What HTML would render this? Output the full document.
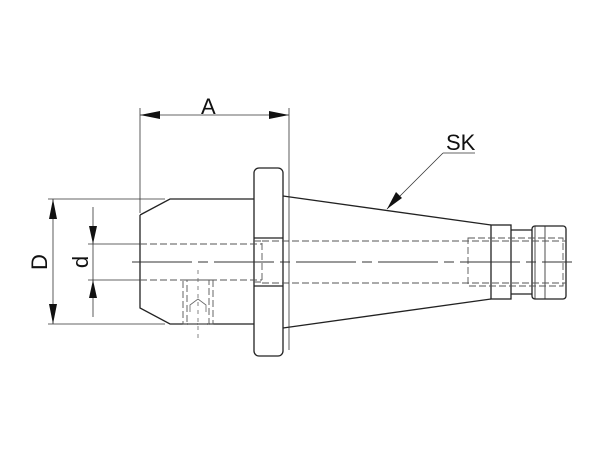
<!DOCTYPE html>
<html><head><style>html,body{margin:0;padding:0;background:#fff}svg{display:block}</style></head>
<body>
<svg width="600" height="450" viewBox="0 0 600 450" xmlns="http://www.w3.org/2000/svg">
<g fill="none" stroke="#222" stroke-width="1.3">
<path d="M140,215 L170,199 L254,199 M140,215 L140,308 L170,324 L254,324"/>
<rect x="254" y="168" width="29" height="188" rx="5"/>
<line x1="254" y1="238" x2="283" y2="238"/>
<line x1="254" y1="286" x2="283" y2="286"/>
<line x1="283" y1="196" x2="491" y2="225"/>
<line x1="283" y1="328" x2="491" y2="299"/>
<rect x="491" y="225" width="20" height="74"/>
<line x1="511" y1="230" x2="532" y2="230"/>
<line x1="511" y1="294" x2="532" y2="294"/>
<rect x="532" y="226" width="34" height="73" rx="3"/>
<line x1="535" y1="226" x2="535" y2="299" stroke-width="0.8"/>
<line x1="545" y1="226" x2="545" y2="299" stroke-width="0.8"/>
</g>
<g fill="none" stroke="#555" stroke-width="0.9" stroke-dasharray="7,3">
<line x1="140" y1="244" x2="262" y2="244"/>
<line x1="140" y1="280" x2="262" y2="280"/>
<path d="M254,241 L262,241 L262,282 L254,282"/>
<line x1="262" y1="241" x2="566" y2="241"/>
<line x1="262" y1="283" x2="566" y2="283"/>
<rect x="468" y="238" width="95" height="48"/>
<rect x="183" y="280" width="30" height="44"/>
<rect x="187" y="280" width="22" height="44"/>
</g>
<g fill="none" stroke="#666" stroke-width="0.8">
<path d="M190,312 L190,305 L198,299 L206,305 L206,312"/>
<line x1="198" y1="270" x2="198" y2="338" stroke-dasharray="4,4"/>
</g>
<line x1="132" y1="262" x2="572" y2="262" stroke="#333" stroke-width="0.9" stroke-dasharray="60,6,10,6"/>
<g stroke="#333" stroke-width="0.8" fill="none">
<line x1="140" y1="108" x2="140" y2="213"/>
<line x1="289" y1="108" x2="289" y2="350"/>
<line x1="140" y1="115" x2="289" y2="115"/>
<line x1="48" y1="199" x2="165" y2="199"/>
<line x1="48" y1="324" x2="165" y2="324"/>
<line x1="53" y1="199" x2="53" y2="324"/>
<line x1="88" y1="244" x2="140" y2="244"/>
<line x1="88" y1="280" x2="140" y2="280"/>
<line x1="93" y1="207" x2="93" y2="317"/>
<line x1="443" y1="153" x2="387" y2="209"/>
<line x1="443" y1="153" x2="475" y2="153"/>
</g>
<g fill="#111">
<polygon points="140,115 160,111 160,119"/>
<polygon points="289,115 269,111 269,119"/>
<polygon points="53,199 49,219 57,219"/>
<polygon points="53,324 49,304 57,304"/>
<polygon points="93,244 89,226 97,226"/>
<polygon points="93,280 89,298 97,298"/>
<polygon points="387,209 396,192 402,198"/>
</g>
<g font-family="Liberation Sans, sans-serif" font-size="22" fill="#111">
<text x="201" y="114">A</text>
<text x="446" y="150">SK</text>
<text transform="translate(47,262) rotate(-90)" text-anchor="middle">D</text>
<text transform="translate(88,262) rotate(-90)" text-anchor="middle">d</text>
</g>
</svg>
</body></html>
